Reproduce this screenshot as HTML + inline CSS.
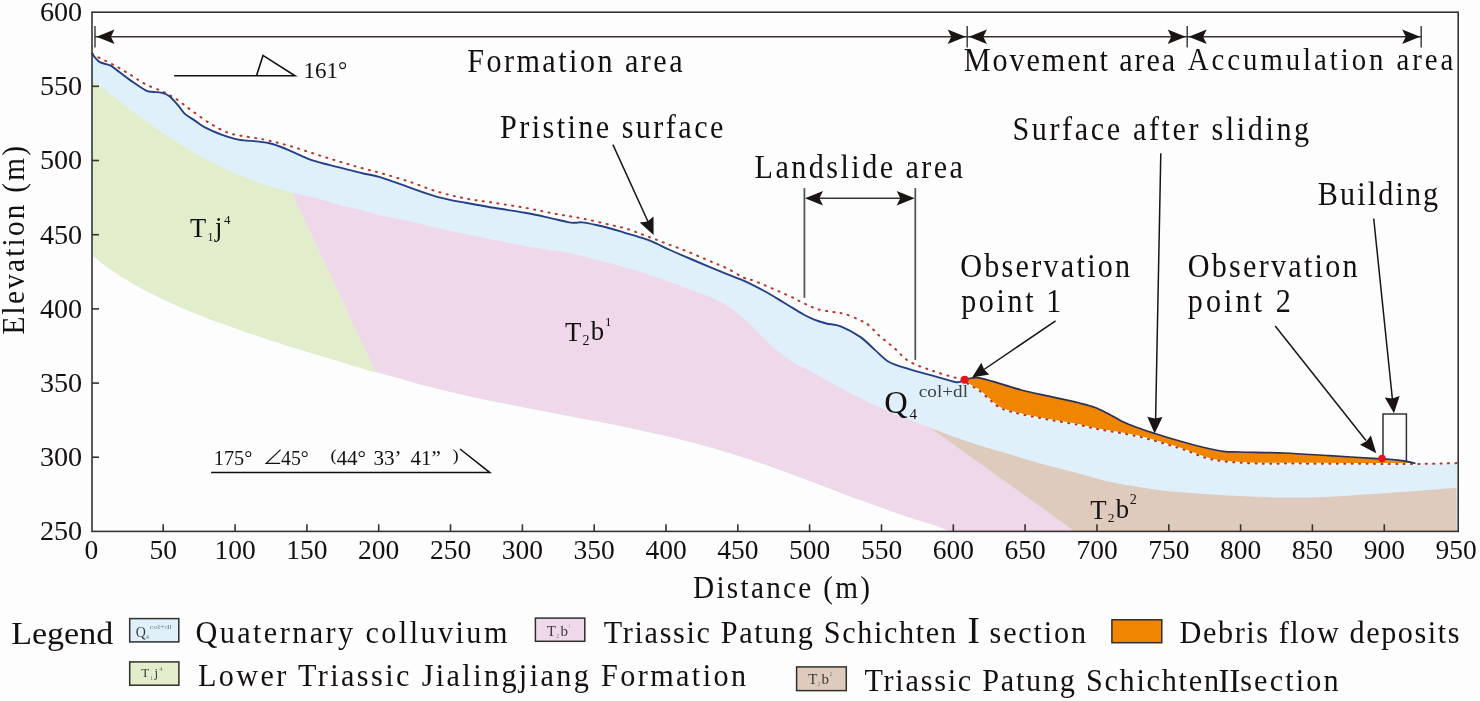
<!DOCTYPE html>
<html><head><meta charset="utf-8"><style>
html,body{margin:0;padding:0;background:#fdfdfd;overflow:hidden;}
svg{display:block;will-change:transform;}
text{font-family:"Liberation Serif",serif;fill:#151010;}
.ax{font-size:27.5px;}
.ay{font-size:28.2px;}
</style></head><body>
<svg width="1480" height="701" viewBox="0 0 1480 701">
<path d="M92.3,54.3 C93.4,55.5 96.8,59.9 98.7,61.4 C100.6,62.9 101.7,62.8 103.7,63.5 C105.7,64.2 108.2,64.3 110.8,65.7 C113.4,67.1 116.1,69.6 119.4,72.1 C122.7,74.6 126.4,77.5 130.8,80.6 C135.2,83.6 142.1,88.5 145.7,90.4 C149.3,92.3 149.5,91.4 152.2,91.8 C154.9,92.2 159.2,92.1 162.1,92.8 C165.0,93.5 166.9,94.2 169.5,96.2 C172.1,98.2 175.3,102.0 177.8,104.9 C180.3,107.8 181.8,111.0 184.6,113.6 C187.4,116.2 191.5,118.3 194.9,120.6 C198.3,122.9 200.7,125.2 204.9,127.4 C209.1,129.6 214.3,132.0 219.9,134.0 C225.5,136.0 232.2,138.4 238.4,139.6 C244.6,140.8 251.6,140.8 257.0,141.4 C262.4,142.1 266.0,142.3 270.6,143.5 C275.2,144.7 280.1,146.6 284.9,148.5 C289.7,150.4 294.4,152.9 299.2,154.9 C303.9,156.9 308.4,158.9 313.4,160.6 C318.4,162.3 323.2,163.3 329.1,164.9 C335.1,166.5 343.4,168.5 349.1,169.9 C354.8,171.3 358.2,172.3 363.3,173.5 C368.4,174.7 372.5,174.8 380.0,177.1 C387.5,179.4 399.0,183.8 408.5,187.1 C418.0,190.4 427.5,194.2 437.0,196.8 C446.5,199.4 456.1,201.0 465.6,202.8 C475.1,204.6 484.2,206.1 494.1,207.8 C504.0,209.5 516.3,211.2 525.0,212.8 C533.7,214.4 539.3,215.6 546.4,217.1 C553.5,218.6 563.0,221.1 567.8,222.1 C572.5,223.1 572.5,222.8 574.9,222.8 C577.3,222.9 578.4,222.0 582.0,222.4 C585.6,222.8 591.5,224.0 596.3,225.0 C601.1,226.0 605.9,227.2 610.6,228.5 C615.4,229.8 620.0,231.4 624.8,232.8 C629.5,234.2 634.4,235.6 639.1,237.1 C643.9,238.6 648.1,239.9 653.3,242.1 C658.4,244.2 663.5,247.1 670.0,250.0 C676.5,252.9 682.5,255.5 692.0,259.5 C701.5,263.5 718.3,270.6 727.0,274.2 C735.7,277.8 738.0,278.1 744.1,280.8 C750.2,283.5 756.7,286.9 763.4,290.5 C770.1,294.1 777.4,298.7 784.1,302.7 C790.8,306.7 798.4,311.6 803.5,314.5 C808.6,317.4 811.2,318.4 815.0,319.9 C818.8,321.4 822.1,322.4 826.4,323.5 C830.7,324.6 835.0,324.1 840.7,326.4 C846.4,328.7 854.9,333.2 860.6,337.1 C866.3,341.0 870.1,345.8 874.9,349.9 C879.6,354.0 883.4,358.8 889.1,362.0 C894.8,365.2 901.9,366.9 909.1,369.2 C916.4,371.5 924.8,373.4 932.6,375.6 C940.5,377.8 951.1,381.5 956.2,382.2 C961.3,382.9 962.1,380.2 963.3,379.8 L968.5,384.2 C970.2,385.2 974.9,387.4 978.5,390.0 C982.1,392.6 986.1,396.8 989.9,399.9 C993.7,403.0 996.1,406.1 1001.3,408.5 C1006.5,410.9 1013.2,412.3 1021.3,414.2 C1029.4,416.1 1040.3,418.1 1049.8,419.9 C1059.3,421.7 1070.4,423.4 1078.3,424.9 C1086.2,426.4 1090.7,427.8 1097.0,429.0 C1103.3,430.2 1109.6,431.2 1116.4,432.4 C1123.2,433.6 1130.7,434.8 1137.8,436.4 C1144.9,438.0 1151.3,439.8 1159.2,442.1 C1167.1,444.4 1176.2,447.1 1185.0,450.0 C1193.8,452.9 1201.2,457.3 1212.0,459.5 C1222.8,461.7 1235.3,462.6 1250.0,463.3 C1264.7,464.0 1272.4,463.5 1300.0,463.6 C1327.6,463.7 1396.2,463.8 1415.4,463.9 L1456.8,463.5 L1456.8,531.4 L951,531.4 L933.7,525.1 C930.7,524.2 921.7,521.4 915.7,519.5 C909.7,517.6 903.7,515.6 897.7,513.5 C891.7,511.4 885.7,509.2 879.7,507.1 C873.7,505.0 867.7,502.8 861.7,500.6 C855.7,498.4 849.7,496.2 843.7,493.9 C837.7,491.6 831.7,489.3 825.7,487.0 C819.7,484.7 813.7,482.4 807.7,480.2 C801.7,477.9 795.7,475.7 789.7,473.5 C783.7,471.3 777.7,469.0 771.7,466.9 C765.7,464.8 759.7,462.7 753.7,460.7 C747.7,458.7 741.7,456.9 735.7,455.0 C729.7,453.1 723.7,451.2 717.7,449.5 C711.7,447.8 705.7,446.1 699.7,444.5 C693.7,442.9 687.7,441.3 681.7,439.8 C675.7,438.3 669.7,436.9 663.7,435.5 C657.7,434.1 651.7,432.7 645.7,431.4 C639.7,430.1 633.7,428.8 627.7,427.5 C621.7,426.2 615.7,425.0 609.7,423.8 C603.7,422.6 597.7,421.5 591.7,420.3 C585.7,419.1 579.7,418.0 573.7,416.9 C567.7,415.8 561.7,414.6 555.7,413.5 C549.7,412.4 543.7,411.2 537.7,410.1 C531.7,409.0 525.7,407.8 519.7,406.6 C513.7,405.4 507.7,404.2 501.7,403.0 C495.7,401.8 489.7,400.6 483.7,399.3 C477.7,398.0 471.7,396.8 465.7,395.4 C459.7,394.0 453.7,392.6 447.7,391.2 C441.7,389.8 435.7,388.3 429.7,386.8 C423.7,385.3 417.7,383.7 411.7,382.0 C405.7,380.3 399.7,378.5 393.7,376.8 C387.7,375.1 378.7,372.8 375.7,372.0 L375.7,372.0 C375.1,371.9 375.2,372.3 372.3,371.5 C369.4,370.7 363.0,368.7 358.3,367.3 C353.6,365.9 349.0,364.4 344.3,363.0 C339.6,361.6 335.0,360.2 330.3,358.8 C325.6,357.4 321.0,356.0 316.3,354.6 C311.6,353.2 307.0,351.8 302.3,350.3 C297.6,348.9 293.0,347.4 288.3,345.9 C283.6,344.4 279.0,343.0 274.3,341.5 C269.6,340.0 265.0,338.4 260.3,336.9 C255.6,335.3 251.0,333.8 246.3,332.2 C241.6,330.6 237.0,329.0 232.3,327.3 C227.6,325.6 223.0,323.9 218.3,322.2 C213.6,320.5 209.0,318.7 204.3,316.9 C199.6,315.1 195.0,313.3 190.3,311.4 C185.6,309.5 181.0,307.6 176.3,305.5 C171.6,303.4 167.0,301.3 162.3,299.1 C157.6,296.9 153.0,294.6 148.3,292.1 C143.6,289.7 139.0,287.1 134.3,284.4 C129.6,281.7 125.0,278.9 120.3,275.9 C115.6,272.9 111.0,269.9 106.3,266.5 C101.6,263.1 94.6,257.4 92.3,255.6 Z" fill="#dff0fb"/>
<path d="M92.3,80.2 C94.7,82.0 101.8,87.3 106.6,91.0 C111.4,94.7 116.2,98.6 120.9,102.3 C125.7,106.0 130.3,109.7 135.1,113.2 C139.8,116.8 144.6,120.2 149.4,123.6 C154.2,127.0 158.9,130.3 163.7,133.5 C168.5,136.7 173.2,139.8 178.0,142.8 C182.8,145.8 187.4,148.6 192.2,151.4 C196.9,154.2 201.7,156.9 206.5,159.4 C211.3,161.9 216.0,164.4 220.8,166.7 C225.6,169.0 230.3,171.1 235.1,173.2 C239.9,175.3 244.7,177.3 249.4,179.1 C254.2,180.9 258.9,182.6 263.6,184.2 C268.4,185.8 273.1,187.2 277.9,188.6 C282.7,190.0 289.8,192.1 292.2,192.8 L375.7,372 L372.3,371.5 C370.0,370.8 363.0,368.7 358.3,367.3 C353.6,365.9 349.0,364.4 344.3,363.0 C339.6,361.6 335.0,360.2 330.3,358.8 C325.6,357.4 321.0,356.0 316.3,354.6 C311.6,353.2 307.0,351.8 302.3,350.3 C297.6,348.9 293.0,347.4 288.3,345.9 C283.6,344.4 279.0,343.0 274.3,341.5 C269.6,340.0 265.0,338.4 260.3,336.9 C255.6,335.3 251.0,333.8 246.3,332.2 C241.6,330.6 237.0,329.0 232.3,327.3 C227.6,325.6 223.0,323.9 218.3,322.2 C213.6,320.5 209.0,318.7 204.3,316.9 C199.6,315.1 195.0,313.3 190.3,311.4 C185.6,309.5 181.0,307.6 176.3,305.5 C171.6,303.4 167.0,301.3 162.3,299.1 C157.6,296.9 153.0,294.6 148.3,292.1 C143.6,289.7 139.0,287.1 134.3,284.4 C129.6,281.7 125.0,278.9 120.3,275.9 C115.6,272.9 111.0,269.9 106.3,266.5 C101.6,263.1 94.6,257.4 92.3,255.6 Z" fill="#e2eecb"/>
<path d="M292.2,192.8 C293.5,193.1 296.8,193.7 300.0,194.4 C303.2,195.1 307.6,196.1 311.4,197.0 C315.2,197.9 319.0,199.0 322.8,200.1 C326.6,201.2 330.4,202.3 334.2,203.4 C338.0,204.5 341.3,205.5 345.6,206.6 C349.9,207.7 354.3,208.4 360.0,209.8 C365.7,211.2 372.6,213.5 380.0,215.2 C387.4,216.9 396.2,218.3 404.3,220.1 C412.4,221.9 420.5,224.2 428.6,226.1 C436.7,228.0 444.9,229.9 453.0,231.6 C461.1,233.3 469.2,234.9 477.3,236.5 C485.4,238.1 493.5,239.8 501.6,241.4 C509.7,243.0 516.2,244.5 525.9,246.2 C535.6,247.9 550.5,250.0 560.0,251.6 C569.5,253.2 575.2,254.2 582.8,256.0 C590.4,257.8 598.0,260.2 605.6,262.3 C613.2,264.4 620.9,266.3 628.5,268.5 C636.1,270.7 643.7,272.9 651.3,275.4 C658.9,277.9 666.5,280.6 674.1,283.4 C681.7,286.2 690.3,289.7 697.0,292.3 C703.7,294.9 709.0,296.5 714.3,298.8 C719.5,301.1 723.3,302.9 728.5,306.4 C733.7,309.9 740.9,315.8 745.7,320.0 C750.5,324.2 753.3,327.6 757.1,331.4 C760.9,335.2 764.7,339.2 768.5,342.8 C772.3,346.4 776.4,350.2 779.9,353.1 C783.4,356.0 786.3,357.9 789.6,360.0 C792.9,362.1 795.8,363.6 799.9,365.8 C804.0,368.0 809.5,370.7 814.2,373.2 C819.0,375.7 823.2,378.1 828.4,381.0 C833.6,383.9 838.9,387.3 845.6,390.8 C852.3,394.3 860.9,398.6 868.5,402.2 C876.1,405.8 883.7,409.3 891.3,412.5 C898.9,415.7 907.6,419.1 914.1,421.6 C920.6,424.2 927.4,426.8 930.0,427.8 L1074.8,531.4 L951,531.4 L951.0,531.4 C948.1,530.4 939.6,527.1 933.7,525.1 C927.8,523.1 921.7,521.4 915.7,519.5 C909.7,517.6 903.7,515.6 897.7,513.5 C891.7,511.4 885.7,509.2 879.7,507.1 C873.7,505.0 867.7,502.8 861.7,500.6 C855.7,498.4 849.7,496.2 843.7,493.9 C837.7,491.6 831.7,489.3 825.7,487.0 C819.7,484.7 813.7,482.4 807.7,480.2 C801.7,477.9 795.7,475.7 789.7,473.5 C783.7,471.3 777.7,469.0 771.7,466.9 C765.7,464.8 759.7,462.7 753.7,460.7 C747.7,458.7 741.7,456.9 735.7,455.0 C729.7,453.1 723.7,451.2 717.7,449.5 C711.7,447.8 705.7,446.1 699.7,444.5 C693.7,442.9 687.7,441.3 681.7,439.8 C675.7,438.3 669.7,436.9 663.7,435.5 C657.7,434.1 651.7,432.7 645.7,431.4 C639.7,430.1 633.7,428.8 627.7,427.5 C621.7,426.2 615.7,425.0 609.7,423.8 C603.7,422.6 597.7,421.5 591.7,420.3 C585.7,419.1 579.7,418.0 573.7,416.9 C567.7,415.8 561.7,414.6 555.7,413.5 C549.7,412.4 543.7,411.2 537.7,410.1 C531.7,409.0 525.7,407.8 519.7,406.6 C513.7,405.4 507.7,404.2 501.7,403.0 C495.7,401.8 489.7,400.6 483.7,399.3 C477.7,398.0 471.7,396.8 465.7,395.4 C459.7,394.0 453.7,392.6 447.7,391.2 C441.7,389.8 435.7,388.3 429.7,386.8 C423.7,385.3 417.7,383.7 411.7,382.0 C405.7,380.3 399.7,378.5 393.7,376.8 C387.7,375.1 378.7,372.8 375.7,372.0 Z" fill="#eed8ea"/>
<path d="M930.0,427.8 C936.9,430.3 957.3,438.2 971.3,442.8 C985.3,447.4 1001.0,451.7 1014.1,455.6 C1027.2,459.5 1039.5,463.1 1050.0,466.0 C1060.5,468.9 1068.0,470.6 1077.0,473.0 C1086.0,475.4 1095.0,478.3 1104.0,480.4 C1113.0,482.5 1122.0,484.2 1131.0,485.8 C1140.0,487.4 1149.0,488.8 1158.0,489.9 C1167.0,491.0 1176.0,491.8 1185.0,492.6 C1194.0,493.4 1201.2,493.9 1212.0,494.6 C1222.8,495.3 1234.0,496.1 1250.0,496.6 C1266.0,497.1 1287.6,497.9 1308.0,497.5 C1328.4,497.1 1347.8,495.6 1372.6,494.0 C1397.3,492.4 1442.5,488.8 1456.5,487.7 L1456.8,531.4 L1074.8,531.4 Z" fill="#dfcbbe"/>
<path d="M963.3,379.8 C964.2,379.6 966.0,378.8 968.5,378.5 C971.0,378.2 974.5,377.3 978.5,377.8 C982.5,378.3 985.7,379.4 992.8,381.4 C999.9,383.4 1011.8,387.5 1021.3,390.0 C1030.8,392.5 1040.3,394.3 1049.8,396.4 C1059.3,398.5 1070.8,400.9 1078.3,402.8 C1085.8,404.7 1089.8,405.6 1095.0,407.5 C1100.2,409.4 1104.5,411.9 1109.3,414.3 C1114.0,416.7 1118.8,419.9 1123.5,422.1 C1128.2,424.4 1132.6,425.9 1137.8,427.8 C1143.0,429.7 1147.8,431.2 1154.9,433.5 C1162.0,435.8 1172.8,439.1 1180.6,441.3 C1188.4,443.6 1194.8,445.3 1201.9,447.0 C1209.0,448.7 1217.0,450.5 1223.3,451.3 C1229.6,452.1 1229.8,451.7 1240.0,452.0 C1250.2,452.3 1269.7,452.4 1284.6,453.0 C1299.5,453.6 1313.1,454.7 1329.2,455.7 C1345.3,456.7 1368.8,458.0 1381.2,458.9 C1393.6,459.8 1397.8,460.1 1403.5,460.9 C1409.2,461.6 1413.4,463.0 1415.4,463.4 L1415.4,463.9 C1396.2,463.8 1327.6,463.7 1300.0,463.6 C1272.4,463.5 1264.7,464.0 1250.0,463.3 C1235.3,462.6 1222.8,461.7 1212.0,459.5 C1201.2,457.3 1193.8,452.9 1185.0,450.0 C1176.2,447.1 1167.1,444.4 1159.2,442.1 C1151.3,439.8 1144.9,438.0 1137.8,436.4 C1130.7,434.8 1123.2,433.6 1116.4,432.4 C1109.6,431.2 1103.3,430.2 1097.0,429.0 C1090.7,427.8 1086.2,426.4 1078.3,424.9 C1070.4,423.4 1059.3,421.7 1049.8,419.9 C1040.3,418.1 1029.4,416.1 1021.3,414.2 C1013.2,412.3 1006.5,410.9 1001.3,408.5 C996.1,406.1 993.7,403.0 989.9,399.9 C986.1,396.8 982.1,392.6 978.5,390.0 C974.9,387.4 970.9,385.9 968.5,384.2 C966.1,382.5 965.0,380.4 964.3,379.7 Z" fill="#f08502"/>
<path d="M1383,460 L1383,414 L1406.4,414 L1406.4,461.5" fill="#fdfdfd" stroke="#333" stroke-width="1.5"/>
<path d="M964.3,379.7 C965.0,380.4 966.1,382.5 968.5,384.2 C970.9,385.9 974.9,387.4 978.5,390.0 C982.1,392.6 986.1,396.8 989.9,399.9 C993.7,403.0 996.1,406.1 1001.3,408.5 C1006.5,410.9 1013.2,412.3 1021.3,414.2 C1029.4,416.1 1040.3,418.1 1049.8,419.9 C1059.3,421.7 1070.4,423.4 1078.3,424.9 C1086.2,426.4 1090.7,427.8 1097.0,429.0 C1103.3,430.2 1109.6,431.2 1116.4,432.4 C1123.2,433.6 1130.7,434.8 1137.8,436.4 C1144.9,438.0 1151.3,439.8 1159.2,442.1 C1167.1,444.4 1176.2,447.1 1185.0,450.0 C1193.8,452.9 1201.2,457.3 1212.0,459.5 C1222.8,461.7 1235.3,462.6 1250.0,463.3 C1264.7,464.0 1272.4,463.5 1300.0,463.6 C1327.6,463.7 1396.2,463.8 1415.4,463.9" fill="none" stroke="#fff" stroke-width="1.6"/>
<path d="M92.3,53.6 C93.5,54.3 95.4,55.7 99.4,57.8 C103.4,59.9 111.3,63.5 116.5,66.4 C121.7,69.3 125.9,72.0 130.8,75.0 C135.7,78.0 140.1,81.4 145.7,84.3 C151.3,87.2 158.9,89.7 164.2,92.3 C169.4,94.9 172.6,96.6 177.2,99.7 C181.8,102.8 186.4,106.8 192.0,110.8 C197.6,114.8 204.4,120.1 210.6,123.8 C216.8,127.5 222.9,130.9 229.1,133.1 C235.3,135.3 242.0,135.8 247.7,136.8 C253.4,137.9 258.5,138.4 263.5,139.4 C268.5,140.4 273.1,141.6 277.8,142.8 C282.6,144.0 287.2,145.2 292.0,146.6 C296.8,148.0 301.5,149.7 306.3,151.2 C311.1,152.7 315.9,154.3 320.6,155.8 C325.4,157.3 330.1,158.8 334.8,160.2 C339.6,161.6 344.4,163.1 349.1,164.5 C353.9,165.9 358.2,167.1 363.3,168.5 C368.4,169.9 372.5,170.7 380.0,172.8 C387.5,175.0 399.0,178.3 408.5,181.4 C418.0,184.5 427.5,188.7 437.0,191.5 C446.5,194.3 456.1,196.6 465.6,198.5 C475.1,200.4 484.2,201.2 494.1,202.8 C504.0,204.4 515.1,206.0 525.0,207.8 C534.9,209.6 544.0,211.7 553.5,213.5 C563.0,215.3 572.1,216.5 582.0,218.5 C591.9,220.5 605.1,223.6 612.8,225.4 C620.5,227.2 623.4,227.8 628.3,229.3 C633.2,230.8 637.4,232.7 642.0,234.4 C646.6,236.1 651.2,237.8 655.7,239.5 C660.2,241.2 664.8,243.0 669.3,244.7 C673.8,246.4 678.4,248.0 683.0,249.8 C687.6,251.6 691.9,253.4 696.7,255.4 C701.5,257.4 707.0,259.9 712.0,262.0 C717.0,264.1 721.6,265.7 727.0,268.3 C732.4,270.9 739.3,275.6 744.1,277.8 C748.9,280.0 748.2,278.4 755.6,281.4 C763.0,284.4 780.7,292.1 788.7,295.7 C796.7,299.3 798.6,300.8 803.5,303.1 C808.4,305.4 812.9,307.8 817.9,309.3 C822.9,310.8 828.7,311.2 833.2,312.0 C837.7,312.8 840.5,312.6 845.0,314.0 C849.5,315.4 856.0,318.3 860.0,320.2 C864.0,322.1 866.0,323.0 869.2,325.6 C872.4,328.2 875.2,332.0 879.2,335.6 C883.2,339.2 888.4,343.0 893.4,347.3 C898.4,351.6 902.6,357.5 909.1,361.4 C915.6,365.3 924.8,368.1 932.6,370.8 C940.4,373.6 950.8,376.4 956.1,377.9 C961.4,379.4 962.2,378.6 964.3,379.7 C966.4,380.8 966.1,382.5 968.5,384.2 C970.9,385.9 974.9,387.4 978.5,390.0 C982.1,392.6 986.1,396.8 989.9,399.9 C993.7,403.0 996.1,406.1 1001.3,408.5 C1006.5,410.9 1013.2,412.3 1021.3,414.2 C1029.4,416.1 1040.3,418.1 1049.8,419.9 C1059.3,421.7 1070.4,423.4 1078.3,424.9 C1086.2,426.4 1090.7,427.8 1097.0,429.0 C1103.3,430.2 1109.6,431.2 1116.4,432.4 C1123.2,433.6 1130.7,434.8 1137.8,436.4 C1144.9,438.0 1151.3,439.8 1159.2,442.1 C1167.1,444.4 1176.2,447.1 1185.0,450.0 C1193.8,452.9 1201.2,457.3 1212.0,459.5 C1222.8,461.7 1235.3,462.6 1250.0,463.3 C1264.7,464.0 1272.4,463.5 1300.0,463.6 C1327.6,463.7 1389.2,464.0 1415.4,463.9 C1441.6,463.8 1450.1,463.2 1457.0,463.1" fill="none" stroke="#b83428" stroke-width="2.0" stroke-dasharray="1.1 6.3" stroke-linecap="round"/>
<path d="M92.3,54.3 C93.4,55.5 96.8,59.9 98.7,61.4 C100.6,62.9 101.7,62.8 103.7,63.5 C105.7,64.2 108.2,64.3 110.8,65.7 C113.4,67.1 116.1,69.6 119.4,72.1 C122.7,74.6 126.4,77.5 130.8,80.6 C135.2,83.6 142.1,88.5 145.7,90.4 C149.3,92.3 149.5,91.4 152.2,91.8 C154.9,92.2 159.2,92.1 162.1,92.8 C165.0,93.5 166.9,94.2 169.5,96.2 C172.1,98.2 175.3,102.0 177.8,104.9 C180.3,107.8 181.8,111.0 184.6,113.6 C187.4,116.2 191.5,118.3 194.9,120.6 C198.3,122.9 200.7,125.2 204.9,127.4 C209.1,129.6 214.3,132.0 219.9,134.0 C225.5,136.0 232.2,138.4 238.4,139.6 C244.6,140.8 251.6,140.8 257.0,141.4 C262.4,142.1 266.0,142.3 270.6,143.5 C275.2,144.7 280.1,146.6 284.9,148.5 C289.7,150.4 294.4,152.9 299.2,154.9 C303.9,156.9 308.4,158.9 313.4,160.6 C318.4,162.3 323.2,163.3 329.1,164.9 C335.1,166.5 343.4,168.5 349.1,169.9 C354.8,171.3 358.2,172.3 363.3,173.5 C368.4,174.7 372.5,174.8 380.0,177.1 C387.5,179.4 399.0,183.8 408.5,187.1 C418.0,190.4 427.5,194.2 437.0,196.8 C446.5,199.4 456.1,201.0 465.6,202.8 C475.1,204.6 484.2,206.1 494.1,207.8 C504.0,209.5 516.3,211.2 525.0,212.8 C533.7,214.4 539.3,215.6 546.4,217.1 C553.5,218.6 563.0,221.1 567.8,222.1 C572.5,223.1 572.5,222.8 574.9,222.8 C577.3,222.9 578.4,222.0 582.0,222.4 C585.6,222.8 591.5,224.0 596.3,225.0 C601.1,226.0 605.9,227.2 610.6,228.5 C615.4,229.8 620.0,231.4 624.8,232.8 C629.5,234.2 634.4,235.6 639.1,237.1 C643.9,238.6 648.1,239.9 653.3,242.1 C658.4,244.2 663.5,247.1 670.0,250.0 C676.5,252.9 682.5,255.5 692.0,259.5 C701.5,263.5 718.3,270.6 727.0,274.2 C735.7,277.8 738.0,278.1 744.1,280.8 C750.2,283.5 756.7,286.9 763.4,290.5 C770.1,294.1 777.4,298.7 784.1,302.7 C790.8,306.7 798.4,311.6 803.5,314.5 C808.6,317.4 811.2,318.4 815.0,319.9 C818.8,321.4 822.1,322.4 826.4,323.5 C830.7,324.6 835.0,324.1 840.7,326.4 C846.4,328.7 854.9,333.2 860.6,337.1 C866.3,341.0 870.1,345.8 874.9,349.9 C879.6,354.0 883.4,358.8 889.1,362.0 C894.8,365.2 901.9,366.9 909.1,369.2 C916.4,371.5 924.8,373.4 932.6,375.6 C940.5,377.8 951.1,381.5 956.2,382.2 C961.3,382.9 962.1,380.2 963.3,379.8" fill="none" stroke="#233f86" stroke-width="1.9" stroke-linejoin="round"/>
<path d="M963.3,379.8 C964.2,379.6 966.0,378.8 968.5,378.5 C971.0,378.2 974.5,377.3 978.5,377.8 C982.5,378.3 985.7,379.4 992.8,381.4 C999.9,383.4 1011.8,387.5 1021.3,390.0 C1030.8,392.5 1040.3,394.3 1049.8,396.4 C1059.3,398.5 1070.8,400.9 1078.3,402.8 C1085.8,404.7 1089.8,405.6 1095.0,407.5 C1100.2,409.4 1104.5,411.9 1109.3,414.3 C1114.0,416.7 1118.8,419.9 1123.5,422.1 C1128.2,424.4 1132.6,425.9 1137.8,427.8 C1143.0,429.7 1147.8,431.2 1154.9,433.5 C1162.0,435.8 1172.8,439.1 1180.6,441.3 C1188.4,443.6 1194.8,445.3 1201.9,447.0 C1209.0,448.7 1217.0,450.5 1223.3,451.3 C1229.6,452.1 1229.8,451.7 1240.0,452.0 C1250.2,452.3 1269.7,452.4 1284.6,453.0 C1299.5,453.6 1313.1,454.7 1329.2,455.7 C1345.3,456.7 1368.8,458.0 1381.2,458.9 C1393.6,459.8 1397.8,460.1 1403.5,460.9 C1409.2,461.6 1413.4,463.0 1415.4,463.4" fill="none" stroke="#2a2f55" stroke-width="1.7" stroke-linejoin="round"/>
<circle cx="964.6" cy="379.8" r="4" fill="#e8141c"/>
<circle cx="1382.1" cy="458.6" r="3.8" fill="#e8141c"/>
<rect x="92" y="12.2" width="1366.2" height="519.2" fill="none" stroke="#333" stroke-width="1.6"/>
<text x="82.2" y="21.0" text-anchor="end" class="ay">600</text>
<line x1="92" y1="86.3" x2="99" y2="86.3" stroke="#333" stroke-width="1.6"/>
<text x="82.2" y="95.2" text-anchor="end" class="ay">550</text>
<line x1="92" y1="160.5" x2="99" y2="160.5" stroke="#333" stroke-width="1.6"/>
<text x="82.2" y="169.4" text-anchor="end" class="ay">500</text>
<line x1="92" y1="234.7" x2="99" y2="234.7" stroke="#333" stroke-width="1.6"/>
<text x="82.2" y="243.6" text-anchor="end" class="ay">450</text>
<line x1="92" y1="308.9" x2="99" y2="308.9" stroke="#333" stroke-width="1.6"/>
<text x="82.2" y="317.8" text-anchor="end" class="ay">400</text>
<line x1="92" y1="383.1" x2="99" y2="383.1" stroke="#333" stroke-width="1.6"/>
<text x="82.2" y="391.9" text-anchor="end" class="ay">350</text>
<line x1="92" y1="457.2" x2="99" y2="457.2" stroke="#333" stroke-width="1.6"/>
<text x="82.2" y="466.1" text-anchor="end" class="ay">300</text>
<text x="82.2" y="540.3" text-anchor="end" class="ay">250</text>
<text x="91.4" y="559" text-anchor="middle" class="ax">0</text>
<line x1="163.2" y1="531.4" x2="163.2" y2="524.3" stroke="#333" stroke-width="1.6"/>
<text x="163.2" y="559" text-anchor="middle" class="ax">50</text>
<line x1="235.1" y1="531.4" x2="235.1" y2="524.3" stroke="#333" stroke-width="1.6"/>
<text x="235.1" y="559" text-anchor="middle" class="ax">100</text>
<line x1="306.9" y1="531.4" x2="306.9" y2="524.3" stroke="#333" stroke-width="1.6"/>
<text x="306.9" y="559" text-anchor="middle" class="ax">150</text>
<line x1="378.7" y1="531.4" x2="378.7" y2="524.3" stroke="#333" stroke-width="1.6"/>
<text x="378.7" y="559" text-anchor="middle" class="ax">200</text>
<line x1="450.5" y1="531.4" x2="450.5" y2="524.3" stroke="#333" stroke-width="1.6"/>
<text x="450.5" y="559" text-anchor="middle" class="ax">250</text>
<line x1="522.4" y1="531.4" x2="522.4" y2="524.3" stroke="#333" stroke-width="1.6"/>
<text x="522.4" y="559" text-anchor="middle" class="ax">300</text>
<line x1="594.2" y1="531.4" x2="594.2" y2="524.3" stroke="#333" stroke-width="1.6"/>
<text x="594.2" y="559" text-anchor="middle" class="ax">350</text>
<line x1="666.0" y1="531.4" x2="666.0" y2="524.3" stroke="#333" stroke-width="1.6"/>
<text x="666.0" y="559" text-anchor="middle" class="ax">400</text>
<line x1="737.8" y1="531.4" x2="737.8" y2="524.3" stroke="#333" stroke-width="1.6"/>
<text x="737.8" y="559" text-anchor="middle" class="ax">450</text>
<line x1="809.6" y1="531.4" x2="809.6" y2="524.3" stroke="#333" stroke-width="1.6"/>
<text x="809.6" y="559" text-anchor="middle" class="ax">500</text>
<line x1="881.5" y1="531.4" x2="881.5" y2="524.3" stroke="#333" stroke-width="1.6"/>
<text x="881.5" y="559" text-anchor="middle" class="ax">550</text>
<line x1="953.3" y1="531.4" x2="953.3" y2="524.3" stroke="#333" stroke-width="1.6"/>
<text x="953.3" y="559" text-anchor="middle" class="ax">600</text>
<line x1="1025.1" y1="531.4" x2="1025.1" y2="524.3" stroke="#333" stroke-width="1.6"/>
<text x="1025.1" y="559" text-anchor="middle" class="ax">650</text>
<line x1="1097.0" y1="531.4" x2="1097.0" y2="524.3" stroke="#333" stroke-width="1.6"/>
<text x="1097.0" y="559" text-anchor="middle" class="ax">700</text>
<line x1="1168.8" y1="531.4" x2="1168.8" y2="524.3" stroke="#333" stroke-width="1.6"/>
<text x="1168.8" y="559" text-anchor="middle" class="ax">750</text>
<line x1="1240.6" y1="531.4" x2="1240.6" y2="524.3" stroke="#333" stroke-width="1.6"/>
<text x="1240.6" y="559" text-anchor="middle" class="ax">800</text>
<line x1="1312.4" y1="531.4" x2="1312.4" y2="524.3" stroke="#333" stroke-width="1.6"/>
<text x="1312.4" y="559" text-anchor="middle" class="ax">850</text>
<line x1="1384.3" y1="531.4" x2="1384.3" y2="524.3" stroke="#333" stroke-width="1.6"/>
<text x="1384.3" y="559" text-anchor="middle" class="ax">900</text>
<text x="1456.1" y="559" text-anchor="middle" class="ax">950</text>
<text id="formation" transform="translate(467.20,71.70) scale(0.9,1)" font-size="33.5" textLength="239.33" lengthAdjust="spacing">Formation area</text>
<text id="movement" transform="translate(963.80,71.10) scale(0.9,1)" font-size="33.5" textLength="234.89" lengthAdjust="spacing">Movement area</text>
<text id="accum" transform="translate(1187.80,70.20) scale(0.9,1)" font-size="32" textLength="295.11" lengthAdjust="spacing">Accumulation area</text>
<text id="deg161" x="303.40" y="77.50" font-size="23.5" textLength="43.80" lengthAdjust="spacingAndGlyphs">161°</text>
<text id="pristine" transform="translate(500.00,137.50) scale(0.9,1)" font-size="33.5" textLength="248.22" lengthAdjust="spacing">Pristine surface</text>
<text id="surfafter" transform="translate(1012.40,140.20) scale(0.9,1)" font-size="33.5" textLength="329.78" lengthAdjust="spacing">Surface after sliding</text>
<text id="landslide" transform="translate(754.60,178.10) scale(0.9,1)" font-size="33.5" textLength="231.56" lengthAdjust="spacing">Landslide area</text>
<text id="building" transform="translate(1317.80,205.20) scale(0.9,1)" font-size="33.5" textLength="133.78" lengthAdjust="spacing">Building</text>
<text id="obs1" transform="translate(960.20,277.00) scale(0.9,1)" font-size="33.5" textLength="188.89" lengthAdjust="spacing">Observation</text>
<text id="pt1" transform="translate(961.20,311.70) scale(0.9,1)" font-size="33.5" textLength="111.33" lengthAdjust="spacing">point 1</text>
<text id="obs2" transform="translate(1187.80,277.30) scale(0.9,1)" font-size="33.5" textLength="188.67" lengthAdjust="spacing">Observation</text>
<text id="pt2" transform="translate(1187.80,312.10) scale(0.9,1)" font-size="33.5" textLength="114.44" lengthAdjust="spacing">point 2</text>
<text id="s175" x="213.80" y="464.60" font-size="21" textLength="38.60" lengthAdjust="spacingAndGlyphs">175°</text>
<text id="s45" x="281.00" y="464.60" font-size="21" textLength="27.70" lengthAdjust="spacingAndGlyphs">45°</text>
<text id="sp1" x="330.60" y="461.40" font-size="16.5" textLength="6.20" lengthAdjust="spacingAndGlyphs">(</text>
<text id="s44" x="336.40" y="464.60" font-size="21" textLength="29.40" lengthAdjust="spacingAndGlyphs">44°</text>
<text id="s33" x="373.40" y="464.60" font-size="21" textLength="28.20" lengthAdjust="spacingAndGlyphs">33’</text>
<text id="s41" x="410.40" y="464.60" font-size="21" textLength="30.40" lengthAdjust="spacingAndGlyphs">41”</text>
<text id="sp2" x="452.40" y="461.40" font-size="16.5" textLength="6.20" lengthAdjust="spacingAndGlyphs">)</text>
<text id="distance" transform="translate(693.00,597.80) scale(0.9,1)" font-size="32.5" textLength="196.67" lengthAdjust="spacing">Distance (m)</text>
<text id="legend" x="11.20" y="643.70" font-size="31.8" textLength="102.00" lengthAdjust="spacingAndGlyphs">Legend</text>
<text id="quat" transform="translate(195.40,643.00) scale(0.95,1)" font-size="31.8" textLength="328.42" lengthAdjust="spacing">Quaternary colluvium</text>
<text id="lower" transform="translate(198.00,685.80) scale(0.95,1)" font-size="31.8" textLength="576.84" lengthAdjust="spacing">Lower Triassic Jialingjiang Formation</text>
<text id="tps1a" transform="translate(603.80,642.80) scale(0.95,1)" font-size="31.8" textLength="370.74" lengthAdjust="spacing">Triassic Patung Schichten</text>
<text id="tps1b" x="967.60" y="643.20" font-size="37">I</text>
<text id="tps1c" transform="translate(989.60,642.80) scale(0.95,1)" font-size="31.8" textLength="101.47" lengthAdjust="spacing">section</text>
<text id="tps2a" transform="translate(864.40,691.30) scale(0.95,1)" font-size="31.8" textLength="373.26" lengthAdjust="spacing">Triassic Patung Schichten</text>
<text id="tps2b" x="1218.40" y="691.50" font-size="33" textLength="21.80" lengthAdjust="spacingAndGlyphs">II</text>
<text id="tps2c" transform="translate(1240.20,691.30) scale(0.95,1)" font-size="31.8" textLength="103.58" lengthAdjust="spacing">section</text>
<text id="debris" transform="translate(1179.60,643.00) scale(0.95,1)" font-size="31.8" textLength="294.74" lengthAdjust="spacing">Debris flow deposits</text>
<text id="t1j_T" x="190.05" y="236.54" font-size="26.5">T</text>
<text id="t1j_1" x="207.40" y="241.42" font-size="12">1</text>
<text id="t1j_j" x="215.00" y="236.40" font-size="26.5">j</text>
<text id="t1j_4" x="224.10" y="223.62" font-size="13">4</text>
<text id="t2b1_T" x="565.00" y="340.62" font-size="26.7">T</text>
<text id="t2b1_2" x="582.50" y="344.96" font-size="14">2</text>
<text id="t2b1_b" x="590.80" y="340.46" font-size="26.7">b</text>
<text id="t2b1_1" x="605.05" y="326.38" font-size="13">1</text>
<text id="t2b2_T" x="1090.20" y="518.50" font-size="26.7">T</text>
<text id="t2b2_2" x="1107.75" y="522.38" font-size="13.5">2</text>
<text id="t2b2_b" x="1115.75" y="518.46" font-size="26.7">b</text>
<text id="t2b2_s" x="1129.75" y="504.38" font-size="14">2</text>
<text id="q4_Q" x="884.20" y="412.90" font-size="32.5">Q</text>
<text id="q4_4" x="909.50" y="418.50" font-size="15">4</text>
<text id="q4_col" style="fill:#3c4248" x="918.80" y="397.30" font-size="16.4" textLength="49.20" lengthAdjust="spacingAndGlyphs">col+dl</text>
<line x1="95" y1="36.8" x2="1421" y2="36.8" stroke="#3a3232" stroke-width="1.6"/>
<line x1="95" y1="26.1" x2="95" y2="47.6" stroke="#3a3232" stroke-width="1.4"/>
<line x1="967.2" y1="26.1" x2="967.2" y2="47.6" stroke="#3a3232" stroke-width="1.4"/>
<line x1="1187.2" y1="26.1" x2="1187.2" y2="47.6" stroke="#3a3232" stroke-width="1.4"/>
<line x1="1421.2" y1="26.1" x2="1421.2" y2="47.6" stroke="#3a3232" stroke-width="1.4"/>
<path d="M96.5,36.8 L114.5,29.6 L110.9,36.8 L114.5,44.0 Z" fill="#1a1414"/>
<path d="M965.7,36.8 L947.7,44.0 L951.3,36.8 L947.7,29.6 Z" fill="#1a1414"/>
<path d="M968.9,36.8 L986.9,29.6 L983.3,36.8 L986.9,44.0 Z" fill="#1a1414"/>
<path d="M1185.7,36.8 L1167.7,44.0 L1171.3,36.8 L1167.7,29.6 Z" fill="#1a1414"/>
<path d="M1188.7,36.8 L1206.7,29.6 L1203.1,36.8 L1206.7,44.0 Z" fill="#1a1414"/>
<path d="M1420.2,36.8 L1402.2,44.0 L1405.8,36.8 L1402.2,29.6 Z" fill="#1a1414"/>
<polyline points="174.2,75.8 295,75.8 263,55.4 256.5,75.8" fill="none" stroke="#111" stroke-width="1.6"/>
<line x1="612.9" y1="144.6" x2="650" y2="226" stroke="#1a1414" stroke-width="1.5"/>
<path d="M653.6,235.0 L639.7,222.6 L647.5,221.4 L653.5,216.4 Z" fill="#1a1414"/>
<line x1="1160.8" y1="153.3" x2="1155.6" y2="420" stroke="#1a1414" stroke-width="1.5"/>
<path d="M1154.6,433.4 L1147.3,416.8 L1154.9,418.6 L1162.5,417.1 Z" fill="#1a1414"/>
<line x1="804.4" y1="188.1" x2="804.4" y2="297.8" stroke="#555" stroke-width="1.8"/>
<line x1="915.3" y1="188.1" x2="915.3" y2="359.9" stroke="#555" stroke-width="1.8"/>
<line x1="810" y1="198.2" x2="910" y2="198.2" stroke="#3a3232" stroke-width="1.6"/>
<path d="M805.0,198.2 L823.0,191.0 L819.4,198.2 L823.0,205.4 Z" fill="#1a1414"/>
<path d="M914.7,198.2 L896.7,205.4 L900.3,198.2 L896.7,191.0 Z" fill="#1a1414"/>
<line x1="1373.7" y1="218.5" x2="1392.5" y2="400" stroke="#1a1414" stroke-width="1.5"/>
<path d="M1394.0,413.2 L1384.8,397.6 L1392.4,398.4 L1399.6,396.0 Z" fill="#1a1414"/>
<line x1="1055.6" y1="320.9" x2="984" y2="369.5" stroke="#1a1414" stroke-width="1.5"/>
<path d="M972.1,377.4 L981.3,362.8 L984.2,369.4 L989.2,374.6 Z" fill="#1a1414"/>
<line x1="1275.2" y1="326" x2="1366" y2="440.5" stroke="#1a1414" stroke-width="1.5"/>
<path d="M1376.3,453.2 L1360.0,444.7 L1366.3,441.2 L1370.9,435.6 Z" fill="#1a1414"/>
<polyline points="211.1,472.6 489.9,472.6 460.0,449.0" fill="none" stroke="#111" stroke-width="1.5"/>
<path d="M280.6,449.6 L266.2,463.3 L280.2,463.3" fill="none" stroke="#151010" stroke-width="1.25" stroke-linejoin="miter"/>
<text transform="translate(24,334.5) rotate(-90) scale(0.9,1)" font-size="32.5" textLength="209.4" lengthAdjust="spacing">Elevation (m)</text>
<rect x="129.7" y="618.6" width="49.1" height="23.3" fill="#dff0fb" stroke="#2e2e2e" stroke-width="1.5"/>
<rect x="129.7" y="661.9" width="49.2" height="23.3" fill="#e2eecb" stroke="#2e2e2e" stroke-width="1.5"/>
<rect x="535.4" y="618.1" width="49.4" height="23.2" fill="#eed8ea" stroke="#2e2e2e" stroke-width="1.5"/>
<rect x="796.6" y="666.9" width="49.7" height="23.7" fill="#dfcbbe" stroke="#2e2e2e" stroke-width="1.5"/>
<rect x="1111.9" y="619.8" width="49.9" height="22.9" fill="#f08502" stroke="#2e2e2e" stroke-width="1.5"/>
<text x="135.8" y="636.6" font-size="14" style="fill:#3a3a3a">Q</text><text x="145.8" y="638.6" font-size="6.5" style="fill:#7a7a7a">4</text>
<text x="149.6" y="629.4" font-size="7" textLength="22" lengthAdjust="spacingAndGlyphs" style="fill:#7a7a7a">col+dl</text>
<text x="141.2" y="677.2" font-size="13" style="fill:#3a3a3a">T</text><text x="150" y="680.2" font-size="6.5" style="fill:#7a7a7a">1</text>
<text x="154.6" y="677.2" font-size="13" style="fill:#3a3a3a">j</text><text x="159.2" y="671" font-size="6.5" style="fill:#7a7a7a">4</text>
<text x="546.8" y="635.5" font-size="15" style="fill:#3a3a3a">T</text><text x="556.2" y="637.8" font-size="6" style="fill:#7a7a7a">2</text>
<text x="560.4" y="635.5" font-size="15" style="fill:#3a3a3a">b</text><text x="567.8" y="627.5" font-size="6" style="fill:#aaa">1</text>
<text x="808.2" y="683.5" font-size="15" style="fill:#3a3a3a">T</text><text x="817.6" y="686" font-size="6" style="fill:#7a7a7a">2</text>
<text x="821.6" y="683.5" font-size="15" style="fill:#3a3a3a">b</text><text x="829.6" y="676.4" font-size="6" style="fill:#7a7a7a">2</text>
</svg>
</body></html>
